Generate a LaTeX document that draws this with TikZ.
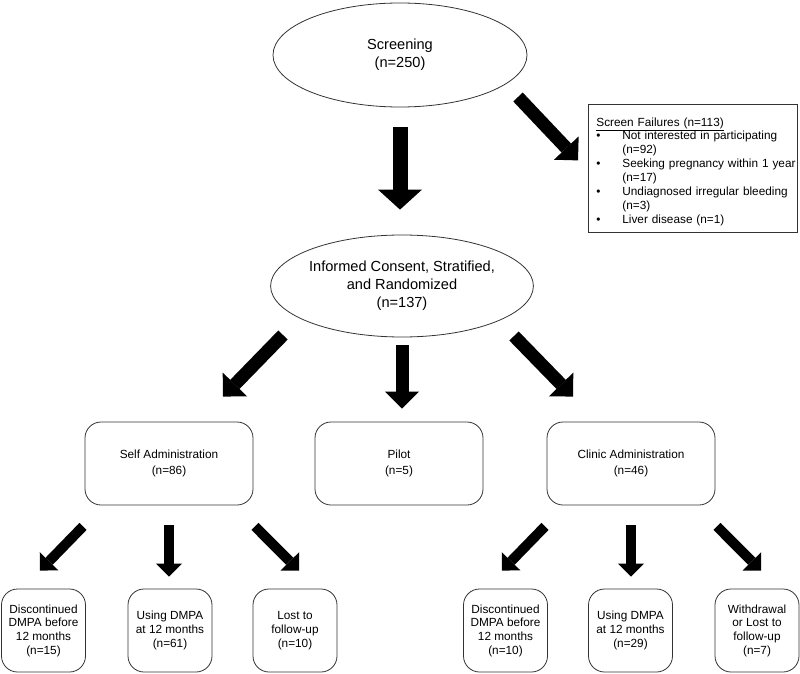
\documentclass[tikz,border=0pt]{standalone}
\usepackage{fontspec}
\setmainfont{Liberation Sans}
\usetikzlibrary{positioning,arrows.meta,shapes.geometric,calc}

\newcommand{\fbul}{\makebox[32pt][l]{\hspace*{6pt}\textbullet}}
\newcommand{\fgap}{\hspace*{32pt}}

\begin{document}
\begin{tikzpicture}[x=1pt,y=-1pt,
        oval/.style={draw=black!80,ellipse,align=center,inner sep=0pt,line width=0.8pt,
            font=\fontsize{14.6}{18}\selectfont},
        arm/.style={draw=black!80,rounded corners=16pt,align=center,line width=0.8pt,
            minimum width=168pt,minimum height=83pt,font=\fontsize{11.8}{16}\selectfont},
        leaf/.style={draw=black!80,rounded corners=16pt,align=center,line width=0.8pt,inner sep=0pt,
            minimum width=84pt,minimum height=83pt,font=\fontsize{11.8}{13.7}\selectfont},
        bigflow/.style={line width=15pt,-{Triangle[width=44pt,length=20pt,line width=0pt]}},
        flow/.style={line width=13pt,-{Triangle[width=34pt,length=17pt,line width=0pt]}},
        smallflow/.style={line width=10pt,-{Triangle[width=26pt,length=13pt,line width=0pt]}}]
    \useasboundingbox (0,0) rectangle (800,674);
    \node[oval,minimum width=254pt,minimum height=104pt] (screen) at (400,55) {Screening\\(n=250)};
    \node[oval,minimum width=251pt,minimum height=102pt] (consent) at (402,286)
        {Informed Consent, Stratified,\\and Randomized\\(n=137)};
    \node[draw=black!80,line width=0.8pt,anchor=north west,minimum width=209pt,minimum height=128pt,
        text width=205pt,inner xsep=2pt,align=left,font=\fontsize{11.8}{13.9}\selectfont] (fail) at (588,104)
        {\rule{0pt}{15pt}\hspace*{6pt}\underline{Screen Failures (n=113)}\\
         \fbul Not interested in participating\\
         \fgap (n=92)\\
         \fbul \mbox{Seeking pregnancy within 1 year}\\
         \fgap (n=17)\\
         \fbul Undiagnosed irregular bleeding\\
         \fgap (n=3)\\
         \fbul Liver disease (n=1)};
    \node[arm] (self) at (169,463.5) {Self Administration\\(n=86)};
    \node[arm] (pilot) at (399,463.5) {Pilot\\(n=5)};
    \node[arm] (clinic) at (631,463.5) {Clinic Administration\\(n=46)};
    \node[leaf] (selfstop) at (43.5,630.5) {Discontinued\\DMPA before\\12 months\\(n=15)};
    \node[leaf] (selfuse) at (170,630.5) {Using DMPA\\at 12 months\\(n=61)};
    \node[leaf] (selflost) at (295,630.5) {Lost to\\follow-up\\(n=10)};
    \node[leaf] (clinstop) at (505.5,630.5) {Discontinued\\DMPA before\\12 months\\(n=10)};
    \node[leaf] (clinuse) at (630.5,630.5) {Using DMPA\\at 12 months\\(n=29)};
    \node[leaf] (clinlost) at (757,630.5) {Withdrawal\\or Lost to\\follow-up\\(n=7)};
    % block arrows
    \draw[bigflow,shorten <=20pt,shorten >=25pt] (screen.south) -- (screen.south |- consent.north);
    \draw[flow] ($(screen)+(118,42)$) -- ($(fail.west)+(-10,-8)$);
    \draw[flow] ($(consent)+(-119,49)$) -- ($(self.north)+(54,-25)$);
    \draw[flow,shorten <=8pt,shorten >=13pt] (consent.south) -- (consent.south |- pilot.north);
    \draw[flow] ($(consent)+(112,50)$) -- ($(clinic.north)+(-58,-25)$);
    \foreach \arm/\stop/\use/\lost in {self/selfstop/selfuse/selflost,clinic/clinstop/clinuse/clinlost}{
        \draw[smallflow] ($(\arm.south)+(-86,21)$) -- ($(\stop.north)+(-3.5,-18)$);
        \draw[smallflow,shorten <=20pt,shorten >=12pt] (\arm.south) -- (\arm.south |- \use.north);
        \draw[smallflow] ($(\arm.south)+(86,21)$) -- ($(\lost.north)+(4,-18)$);
    }
\end{tikzpicture}
\end{document}
